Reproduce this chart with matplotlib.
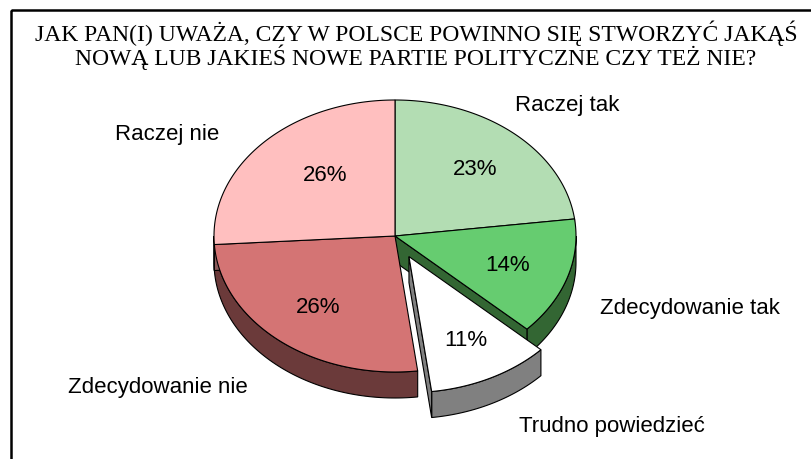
import numpy as np
import matplotlib
matplotlib.use("Agg")
import matplotlib.pyplot as plt
from matplotlib.patches import Polygon, Rectangle

# ---- data ----
categories = ["Raczej tak", "Zdecydowanie tak", "Trudno powiedzieć", "Zdecydowanie nie", "Raczej nie"]
values = [23, 14, 11, 26, 26]
pct_labels = ["23%", "14%", "11%", "26%", "26%"]
title_lines = ["JAK PAN(I) UWAŻA, CZY W POLSCE POWINNO SIĘ STWORZYĆ JAKĄŚ",
               "NOWĄ LUB JAKIEŚ NOWE PARTIE POLITYCZNE CZY TEŻ NIE?"]

# ---- styles ----
top_colors = ["#B3DDB3", "#66CC70", "#FFFFFF", "#D47474", "#FFBFBF"]
side_colors = ["#5A7A5A", "#336633", "#808080", "#6B3A3A", "#8A5A5A"]
explode = [0, 0, 0.17, 0, 0]

W, H = 812, 460
fig = plt.figure(figsize=(W / 100, H / 100), dpi=100)
ax = fig.add_axes([0, 0, 1, 1])
ax.set_xlim(0, W)
ax.set_ylim(H, 0)
ax.axis("off")

cx, cy, rx, ry, depth = 395, 237, 181, 136, 26
lw = 0.8

def rim(theta, ox=0.0, oy=0.0, dz=0.0):
    return cx + ox + rx * np.sin(theta), cy + oy - ry * np.cos(theta) + dz

total = float(sum(values))
bounds = np.cumsum([0] + values) / total * 2 * np.pi
slices = []
for i in range(len(values)):
    a0, a1 = bounds[i], bounds[i + 1]
    mid = 0.5 * (a0 + a1)
    ox = explode[i] * rx * np.sin(mid)
    oy = -explode[i] * ry * np.cos(mid)
    slices.append((a0, a1, ox, oy))

def draw_walls(i, z):
    a0, a1, ox, oy = slices[i]
    # curved outer wall, visible part between 90 and 270 degrees
    lo, hi = max(a0, np.pi / 2), min(a1, 3 * np.pi / 2)
    if hi > lo:
        t = np.linspace(lo, hi, 80)
        xt, yt = rim(t, ox, oy)
        xb, yb = rim(t[::-1], ox, oy, depth)
        ax.add_patch(Polygon(np.column_stack([np.r_[xt, xb], np.r_[yt, yb]]),
                             closed=True, fc=side_colors[i], ec="black", lw=lw, zorder=z))
    # radial walls facing the viewer
    for ang, sign in ((a0, -1), (a1, 1)):
        nang = ang + sign * np.pi / 2
        if -np.cos(nang) > 1e-6:
            x1, y1 = rim(ang, ox, oy)
            ax0, ay0 = cx + ox, cy + oy
            pts = [(ax0, ay0), (x1, y1), (x1, y1 + depth), (ax0, ay0 + depth)]
            ax.add_patch(Polygon(pts, closed=True, fc=side_colors[i], ec="black",
                                 lw=lw, zorder=z))

def draw_top(i, z):
    a0, a1, ox, oy = slices[i]
    t = np.linspace(a0, a1, 120)
    xs, ys = rim(t, ox, oy)
    pts = np.column_stack([np.r_[cx + ox, xs], np.r_[cy + oy, ys]])
    ax.add_patch(Polygon(pts, closed=True, fc=top_colors[i], ec="black", lw=lw, zorder=z))

normal = [i for i in range(len(values)) if explode[i] == 0]
exploded = [i for i in range(len(values)) if explode[i] > 0]
for i in normal:
    draw_walls(i, 1)
for i in normal:
    draw_top(i, 2)
for i in exploded:
    draw_walls(i, 3)
    draw_top(i, 4)

# percentage labels
pct_pos = [(475, 170), (508, 266), (466, 341), (318, 308), (325, 176)]
for (x, y), s in zip(pct_pos, pct_labels):
    ax.text(x, y, s, ha="center", va="center", fontsize=16,
            family="Liberation Sans", zorder=6)

# category labels
cat_pos = [(567, 105), (690, 309), (612, 427), (158, 388), (167, 135)]
for (x, y), s in zip(cat_pos, categories):
    ax.text(x, y, s, ha="center", va="center", fontsize=16,
            family="Liberation Sans", zorder=6)

# title
ax.text(416, 41, title_lines[0], ha="center", va="baseline", fontsize=17,
        family="Liberation Serif")
ax.text(416, 65, title_lines[1], ha="center", va="baseline", fontsize=17,
        family="Liberation Serif")

# frame
ax.add_patch(Rectangle((11, 11), 900, 600, fill=False, ec="black", lw=1.8, zorder=7,
                       clip_on=False))

fig.savefig("out.png", dpi=100)
